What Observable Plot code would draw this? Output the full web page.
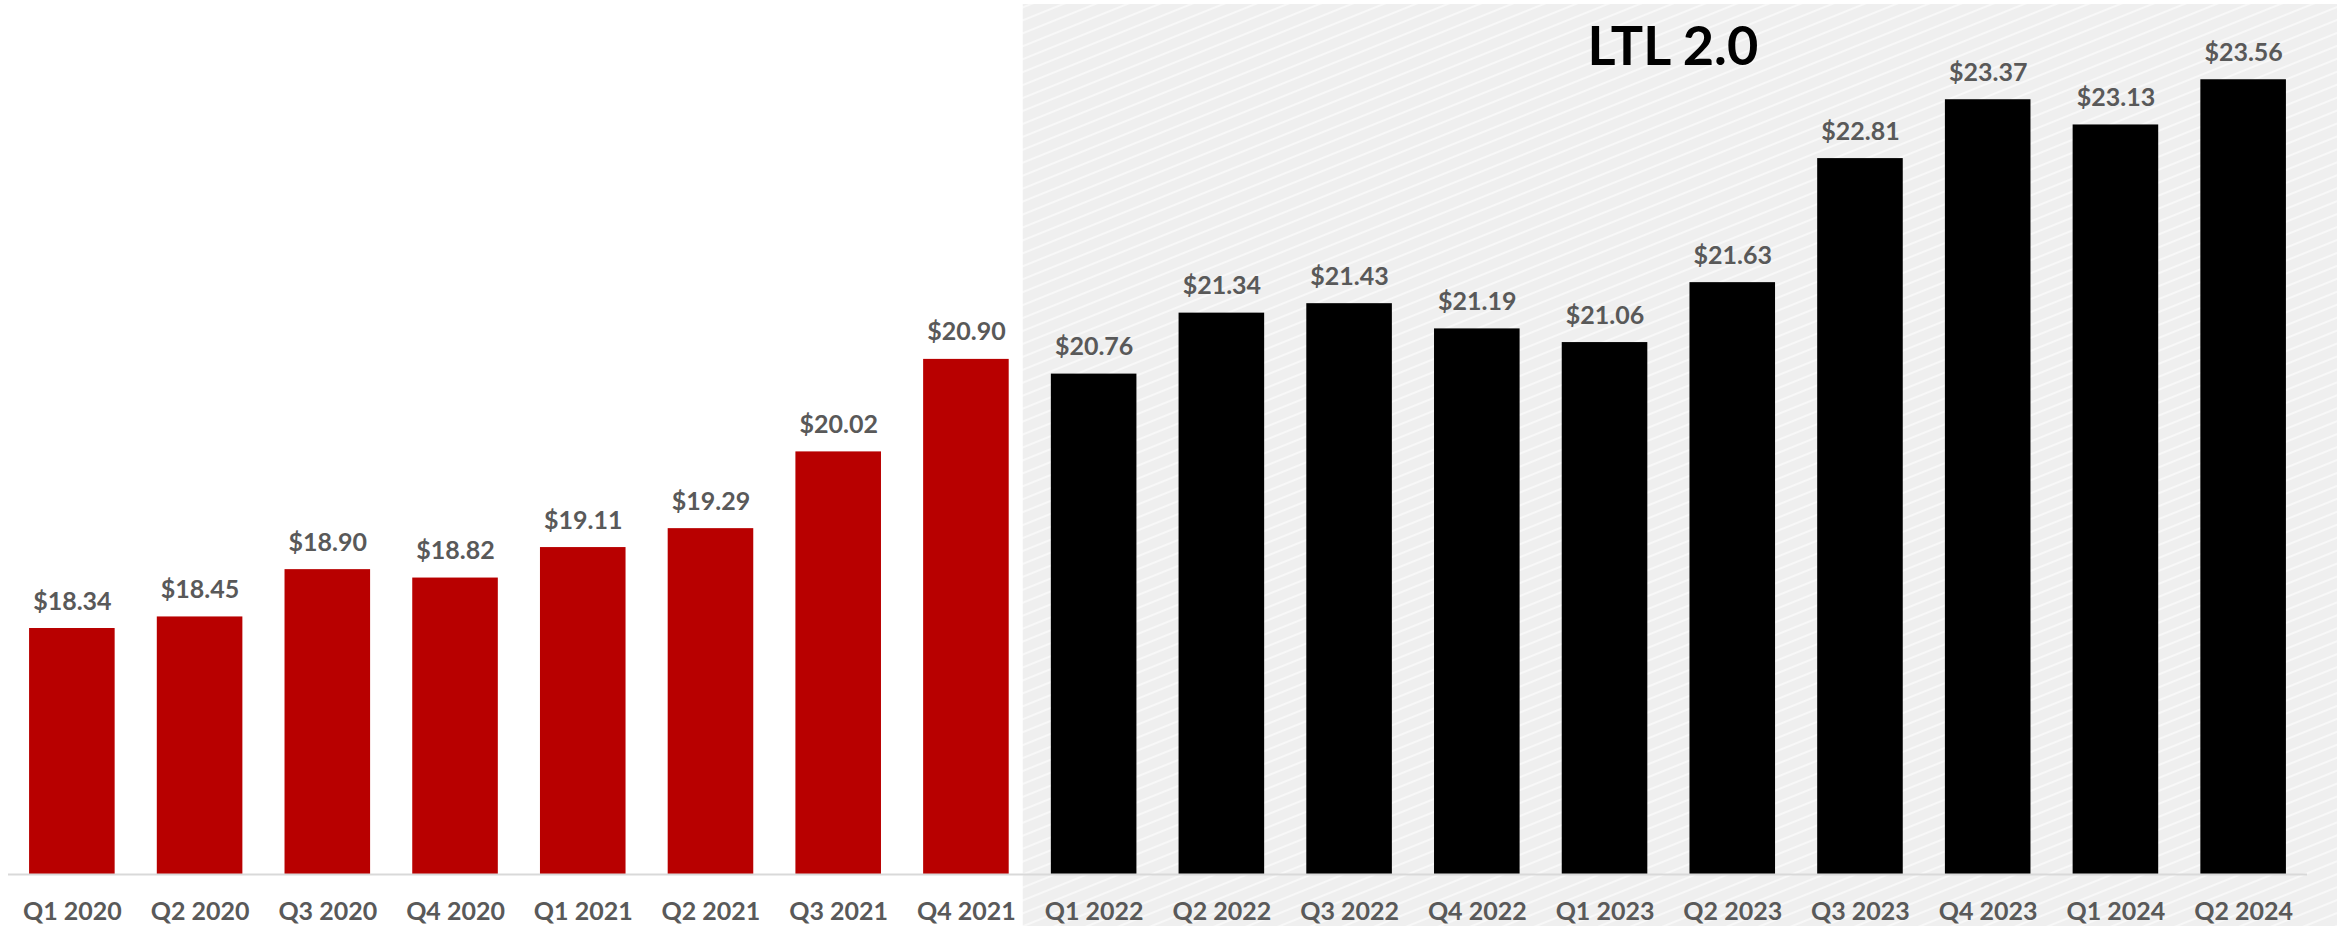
<!DOCTYPE html>
<html>
<head>
<meta charset="utf-8">
<script src="https://cdn.jsdelivr.net/npm/d3@7"></script>
<script src="https://cdn.jsdelivr.net/npm/@observablehq/plot@0.6"></script>
<style>
  body { margin: 0; background: #fff; }
  #chart svg { display: block; }
</style>
</head>
<body>
<div id="chart"></div>
<script>
// Quarterly revenue per hundredweight (LTL)
const periods = [
  "Q1 2020", "Q2 2020", "Q3 2020", "Q4 2020",
  "Q1 2021", "Q2 2021", "Q3 2021", "Q4 2021",
  "Q1 2022", "Q2 2022", "Q3 2022", "Q4 2022",
  "Q1 2023", "Q2 2023", "Q3 2023", "Q4 2023",
  "Q1 2024", "Q2 2024"
];
const revenuePerCwt = [
  18.34, 18.45, 18.90, 18.82,
  19.11, 19.29, 20.02, 20.90,
  20.76, 21.34, 21.43, 21.19,
  21.06, 21.63, 22.81, 23.37,
  23.13, 23.56
];
const ltl2Start = "Q1 2022";
const ltl2Title = "LTL 2.0";
const yDomain = [16, 24];

const startIdx = periods.indexOf(ltl2Start);
const rows = periods.map((period, i) => ({period, value: revenuePerCwt[i], ltl2: i >= startIdx}));
const before = rows.filter(d => !d.ltl2);
const after = rows.filter(d => d.ltl2);

const labelStyle = {fontWeight: "bold", fill: "#595959"};

const chart = Plot.plot({
  width: 2343,
  height: 926,
  marginTop: 33,
  marginBottom: 52,
  marginLeft: 8,
  marginRight: 36,
  style: {fontFamily: "Lato, 'Open Sans', sans-serif", background: "transparent", overflow: "visible"},
  x: {domain: periods, paddingInner: 0.33, paddingOuter: 0.165, round: false, axis: null},
  y: {domain: yDomain, axis: null},
  marks: [
    Plot.barY(before, {x: "period", y1: yDomain[0], y2: "value", fill: "#b80000"}),
    Plot.barY(after, {x: "period", y1: yDomain[0], y2: "value", fill: "#000000"}),
    Plot.ruleY([yDomain[0]], {stroke: "#d9d9d9", strokeWidth: 2}),
    Plot.text(rows, {
      x: "period", y: "value",
      text: d => "$" + d.value.toFixed(2),
      lineAnchor: "bottom", dy: -19, fontSize: 25, ...labelStyle
    }),
    Plot.text(rows, {
      x: "period", frameAnchor: "bottom", text: "period",
      lineAnchor: "top", dy: 28, fontSize: 25, ...labelStyle
    })
  ]
});

document.getElementById("chart").append(chart);

// Striped backdrop marking the LTL 2.0 period, placed from the x scale
const x = chart.scale("x");
const gap = x.step - x.bandwidth;
const shadeLeft = x.apply(ltl2Start) - gap / 2 - 7;
const shadeRight = x.range[1] + 30;
const shadeTop = 4;
const shadeBottom = 926;

const svg = d3.select(chart);
const backdrop = svg.insert("g", ":first-child");
const pattern = backdrop.append("defs").append("pattern")
  .attr("id", "ltl2-stripes")
  .attr("patternUnits", "userSpaceOnUse")
  .attr("width", 40)
  .attr("height", 12)
  .attr("patternTransform", "rotate(-22)");
pattern.append("rect").attr("width", 40).attr("height", 12).attr("fill", "#efefef");
pattern.append("line")
  .attr("x1", 0).attr("x2", 40).attr("y1", 6).attr("y2", 6)
  .attr("stroke", "#fbfbfb").attr("stroke-width", 1.6);

backdrop.append("rect")
  .attr("x", shadeLeft).attr("y", shadeTop)
  .attr("width", shadeRight - shadeLeft).attr("height", shadeBottom - shadeTop)
  .attr("fill", "url(#ltl2-stripes)");

backdrop.append("text")
  .attr("x", (shadeLeft + shadeRight) / 2 - 7)
  .attr("y", 65)
  .attr("text-anchor", "middle")
  .attr("font-family", "Lato, 'Open Sans', sans-serif")
  .attr("font-weight", "bold")
  .attr("font-size", 54)
  .attr("fill", "#000")
  .text(ltl2Title);
</script>
</body>
</html>
